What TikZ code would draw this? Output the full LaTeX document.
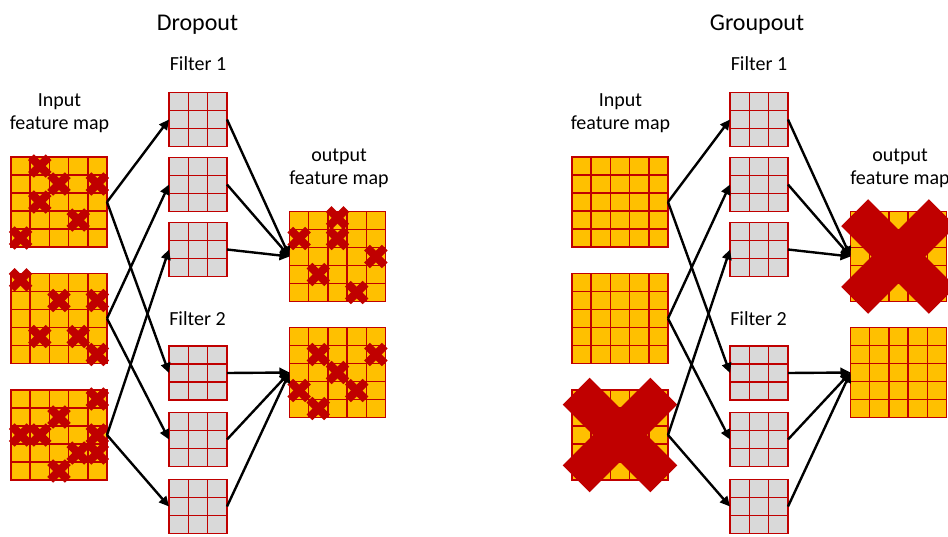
\documentclass[tikz,border=0pt]{standalone}
\usepackage{fontspec}
\setmainfont{Carlito}
\usetikzlibrary{calc,arrows.meta}
\definecolor{gridred}{HTML}{C00000}
\definecolor{mapfill}{HTML}{FFC000}
\definecolor{filtfill}{HTML}{D9D9D9}
\definecolor{crossred}{HTML}{C00000}
\tikzset{
 fmapbox/.style={draw=gridred, line width=1.4pt, fill=mapfill, minimum width=96pt, minimum height=90pt,
   inner sep=0pt, outer sep=0pt, anchor=north west},
 filterbox/.style={draw=gridred, line width=1.4pt, fill=filtfill, minimum width=58pt, minimum height=54pt,
   inner sep=0pt, outer sep=0pt, anchor=north west},
 gridline/.style={draw=gridred, line width=1.5pt},
 arr/.style={line width=2.4pt, -{Triangle[length=10pt,width=9.5pt]}},
 titletext/.style={font=\fontsize{24}{28}\selectfont, anchor=base, inner sep=0pt},
 lbltext/.style={font=\fontsize{20}{24}\selectfont, anchor=base, inner sep=0pt},
 smallx/.pic={
   \fill[crossred, rotate=45] (-12.5,-4.1) rectangle (12.5,4.1);
   \fill[crossred, rotate=-45] (-12.5,-4.1) rectangle (12.5,4.1);},
 bigx/.pic={
   \fill[crossred, rotate=45] (-62,-19) rectangle (62,19);
   \fill[crossred, rotate=-45] (-62,-19) rectangle (62,19);},
}
% grid lines inside a named box: #1 node, #2 number of cells per side
\newcommand\cellgrid[2]{%
  \foreach \k in {1,...,\numexpr#2-1\relax}{
    \draw[gridline] ($(#1.north west)!{\k/#2}!(#1.north east)$) -- ($(#1.south west)!{\k/#2}!(#1.south east)$);
    \draw[gridline] ($(#1.north west)!{\k/#2}!(#1.south west)$) -- ($(#1.north east)!{\k/#2}!(#1.south east)$);
  }}
\newcommand\xat[3]{\pic at ($(#1.north west)+({(#2-0.5)*19.2},{(#3-0.5)*18})$) {smallx};}
\newcommand\makeside[2]{%
  \node[fmapbox] (in#1a) at (11+#2,157) {};
  \node[fmapbox] (in#1b) at (11+#2,273.5) {};
  \node[fmapbox] (in#1c) at (11+#2,390) {};
  \node[filterbox] (f#1a) at (169+#2,92.5) {};
  \node[filterbox] (f#1b) at (169+#2,157.5) {};
  \node[filterbox] (f#1c) at (169+#2,222.5) {};
  \node[filterbox] (f#1d) at (169+#2,346) {};
  \node[filterbox] (f#1e) at (169+#2,412.5) {};
  \node[filterbox] (f#1f) at (169+#2,479.5) {};
  \node[fmapbox] (out#1a) at (289.5+#2,211.5) {};
  \node[fmapbox] (out#1b) at (289.5+#2,327.5) {};
  \foreach \s in {a,b,c}{\cellgrid{in#1\s}{5}}
  \foreach \s in {a,b}{\cellgrid{out#1\s}{5}}
  \foreach \s in {a,b,c,d,e,f}{\cellgrid{f#1\s}{3}}
  \node[lbltext] (filt1#1) at (198+#2,70) {Filter 1};
  \node[lbltext] (filt2#1) at (197.5+#2,325) {Filter 2};
  \node[lbltext] (inp#1) at (59.5+#2,106.5) {Input};
  \node[lbltext] (inpb#1) at (59.5+#2,129.5) {feature map};
  \node[lbltext] (outp#1) at (339+#2,161) {output};
  \node[lbltext] (outpb#1) at (339+#2,184.5) {feature map};
}
\newcommand\makearrows[1]{%
  \foreach \s/\p/\q in {a/a/d, b/b/e, c/c/f}{
    \draw[arr] (in#1\s.east) -- (f#1\p.west);
    \draw[arr] (in#1\s.east) -- (f#1\q.west);
  }
  \foreach \s in {a,b,c}{\draw[arr] (f#1\s.east) -- (out#1a.west);}
  \foreach \s in {d,e,f}{\draw[arr] (f#1\s.east) -- (out#1b.west);}
}
\begin{document}
\begin{tikzpicture}[x=1pt,y=-1pt]
\useasboundingbox (0,0) rectangle (948,536);
\fill[white] (0,0) rectangle (948,536);
% Dropout (left)
\node[titletext] (tdrop) at (197.5,30.5) {Dropout};
\makeside{L}{0}
\foreach \c/\r in {2/1,3/2,5/2,2/3,4/4,1/5} {\xat{inLa}{\c}{\r}}
\foreach \c/\r in {1/0.85,3/2,5/2,2/4,4/4,5/5} {\xat{inLb}{\c}{\r}}
\foreach \c/\r in {5/1,3/2,1/3,2/3,5/3,4/4,5/4,3/5} {\xat{inLc}{\c}{\r}}
\foreach \c/\r in {3/0.85,3/2,1/2,5/3,2/4,4/5} {\xat{outLa}{\c}{\r}}
\foreach \c/\r in {2/2,5/2,3/3,1/4,4/4,2/5} {\xat{outLb}{\c}{\r}}
\makearrows{L}
% Groupout (right)
\node[titletext] (tgroup) at (757,30.5) {Groupout};
\makeside{R}{561}
\pic at (inRc.center) {bigx};
\pic at (outRa.center) {bigx};
\makearrows{R}
\end{tikzpicture}
\end{document}
